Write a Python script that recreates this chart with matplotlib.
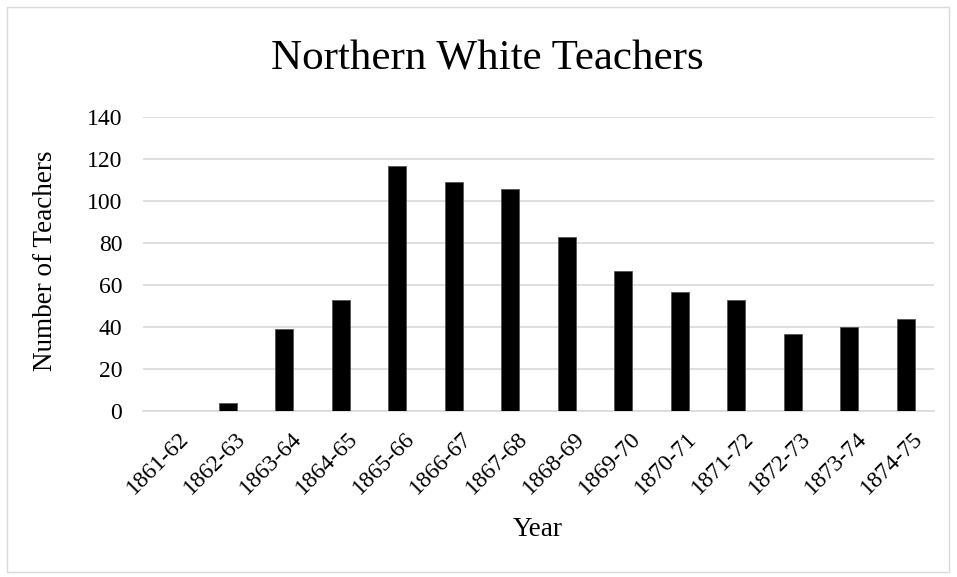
import matplotlib
matplotlib.use("Agg")
import matplotlib.pyplot as plt
from matplotlib.patches import Rectangle
from matplotlib.transforms import ScaledTranslation

years = ["1861-62", "1862-63", "1863-64", "1864-65", "1865-66", "1866-67", "1867-68",
         "1868-69", "1869-70", "1870-71", "1871-72", "1872-73", "1873-74", "1874-75"]
teachers = [0, 4, 39, 53, 117, 109, 106, 83, 67, 57, 53, 37, 40, 44]
y_ticks = [0, 20, 40, 60, 80, 100, 120, 140]

plt.rcParams['font.family'] = ['Liberation Serif', 'DejaVu Serif']

W, H = 957, 577
fig = plt.figure(figsize=(W / 100, H / 100), dpi=100)
ax = fig.add_axes([143 / W, 1 - 411.3 / H, (934 - 143) / W, (411.3 - 117.3) / H])

x = list(range(len(years)))
ax.bar(x, teachers, width=0.31, color='black', edgecolor='#555555', linewidth=0.6, zorder=3)

ax.set_xlim(-0.5, len(years) - 0.5)
ax.set_ylim(0, 140)
ax.set_yticks(y_ticks)
ax.set_yticklabels([str(v) for v in y_ticks], fontsize=17)
ax.set_xticks(x)
ax.set_xticklabels(years, rotation=45, ha='right', rotation_mode='anchor', fontsize=17)
ax.tick_params(axis='y', length=0, pad=15)
ax.tick_params(axis='x', length=0, pad=12)

# nudge rotated year labels slightly to the right
shift = ScaledTranslation(5 / 72, 0, fig.dpi_scale_trans)
for lbl in ax.get_xticklabels():
    lbl.set_transform(lbl.get_transform() + shift)

ax.yaxis.grid(True, color='#d9d9d9', linewidth=1.2, zorder=0)
for side in ['top', 'right', 'left']:
    ax.spines[side].set_visible(False)
ax.spines['bottom'].set_color('#d9d9d9')
ax.spines['bottom'].set_linewidth(1.2)

fig.text(46 / W, 1 - 261 / H, "Number of Teachers", fontsize=19.5, rotation=90,
         ha='center', va='center')
fig.text(538 / W, 1 - 530 / H, "Year", fontsize=19.5, ha='center', va='center')
fig.text(487.5 / W, 1 - 69 / H, "Northern White Teachers", fontsize=31,
         ha='center', va='baseline')

# outer chart frame
fig.patches.append(Rectangle((7 / W, 1 - 572 / H), (949 - 7) / W, (572 - 7) / H,
                             transform=fig.transFigure, fill=False,
                             edgecolor='#d9d9d9', linewidth=1.0))

fig.savefig("out.png", dpi=100)
